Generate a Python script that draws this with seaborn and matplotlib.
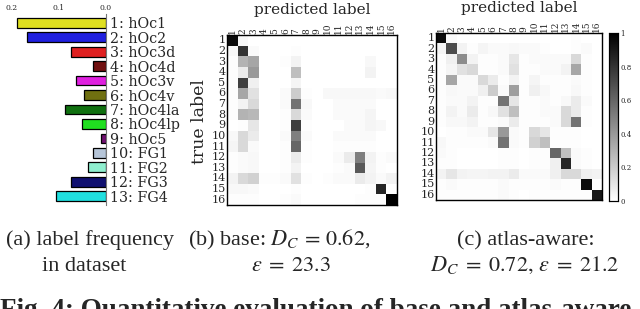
import matplotlib
matplotlib.use('Agg')
import matplotlib.pyplot as plt
import numpy as np
import pandas as pd
import seaborn as sns

# label frequency (panel a)
regions = ['1: hOc1', '2: hOc2', '3: hOc3d', '4: hOc4d', '5: hOc3v', '6: hOc4v', '7: hOc4la',
           '8: hOc4lp', '9: hOc5', '10: FG1', '11: FG2', '12: FG3', '13: FG4']
freq = [0.189, 0.168, 0.074, 0.027, 0.064, 0.047, 0.088, 0.052, 0.011, 0.028, 0.039, 0.074, 0.106]
bar_colors = ['#ffff00', '#0000ff', '#ff0000', '#800000', '#ff00ff', '#808000', '#008000',
              '#00ff00', '#800080', '#b0c4de', '#7fffd4', '#000080', '#00ffff']
freq_ticks = [0.2, 0.1, 0.0]

# confusion matrices (rows: true label, cols: predicted label)
cm_labels = [str(i) for i in range(1, 17)]
cm_base = [
    [0.95, 0.03, 0, 0, 0, 0, 0, 0, 0, 0, 0, 0, 0, 0, 0, 0],
    [0.03, 0.80, 0.02, 0, 0, 0, 0.01, 0, 0, 0, 0, 0, 0, 0, 0, 0],
    [0.01, 0.30, 0.35, 0, 0, 0.01, 0.05, 0, 0, 0, 0, 0, 0, 0.03, 0, 0],
    [0.01, 0.08, 0.40, 0, 0, 0, 0.25, 0, 0, 0, 0, 0, 0, 0.05, 0, 0],
    [0.01, 0.75, 0.06, 0, 0, 0, 0.04, 0, 0, 0, 0, 0, 0, 0, 0, 0],
    [0.01, 0.35, 0.12, 0, 0, 0.02, 0.20, 0.01, 0, 0.03, 0.03, 0.03, 0.03, 0.03, 0.02, 0.03],
    [0.01, 0.05, 0.15, 0, 0, 0.02, 0.55, 0.03, 0, 0, 0.02, 0.02, 0.02, 0.02, 0, 0],
    [0.01, 0.30, 0.28, 0, 0, 0.01, 0.15, 0.02, 0, 0, 0.02, 0.02, 0.02, 0.04, 0, 0],
    [0, 0.01, 0.10, 0, 0, 0.01, 0.75, 0.01, 0, 0, 0, 0.02, 0.02, 0.04, 0.03, 0],
    [0.03, 0.15, 0.08, 0, 0, 0.02, 0.50, 0.02, 0, 0, 0.02, 0.02, 0.02, 0.02, 0, 0],
    [0.04, 0.15, 0.02, 0, 0, 0.01, 0.60, 0.01, 0, 0, 0.01, 0.01, 0.01, 0.01, 0, 0],
    [0.01, 0.02, 0.03, 0, 0, 0.01, 0.08, 0.01, 0, 0, 0.02, 0.08, 0.50, 0.05, 0.01, 0.02],
    [0.01, 0.02, 0.03, 0, 0, 0.01, 0.05, 0, 0, 0, 0.01, 0.02, 0.65, 0.04, 0.01, 0],
    [0.05, 0.15, 0.18, 0.01, 0.01, 0.02, 0.12, 0.01, 0, 0.01, 0.02, 0.02, 0.08, 0.05, 0.02, 0.05],
    [0.03, 0.03, 0.02, 0, 0, 0, 0.01, 0, 0, 0, 0, 0, 0, 0.01, 0.85, 0],
    [0.01, 0.01, 0.01, 0, 0, 0.01, 0.02, 0, 0, 0, 0, 0, 0.01, 0.01, 0.01, 1.0],
]
cm_atlas = [
    [0.95, 0.02, 0, 0, 0, 0, 0, 0, 0, 0, 0, 0, 0, 0.01, 0, 0],
    [0.04, 0.70, 0.05, 0.01, 0.04, 0.02, 0.02, 0.03, 0.02, 0.02, 0.01, 0, 0, 0.01, 0.02, 0],
    [0.01, 0.06, 0.45, 0.05, 0.01, 0.01, 0.02, 0.10, 0.01, 0.02, 0.02, 0.02, 0.02, 0.15, 0.01, 0],
    [0.01, 0.04, 0.12, 0.15, 0.01, 0.01, 0.02, 0.12, 0.01, 0.01, 0.02, 0.02, 0.05, 0.35, 0.01, 0],
    [0.01, 0.35, 0.02, 0.02, 0.15, 0.08, 0.01, 0.05, 0.01, 0.04, 0.01, 0.01, 0.01, 0.02, 0.01, 0],
    [0.01, 0.03, 0.02, 0.02, 0.06, 0.20, 0.02, 0.38, 0.01, 0.06, 0.03, 0.01, 0.01, 0.03, 0.01, 0],
    [0.01, 0.02, 0.02, 0.05, 0.01, 0.01, 0.55, 0.10, 0.01, 0.01, 0.02, 0.01, 0.03, 0.08, 0.02, 0],
    [0.01, 0.05, 0.02, 0.08, 0.01, 0.03, 0.12, 0.25, 0.01, 0.01, 0.02, 0.02, 0.15, 0.08, 0.01, 0],
    [0.01, 0.03, 0.03, 0.05, 0.01, 0.01, 0.02, 0.08, 0.01, 0.01, 0.01, 0.02, 0.15, 0.55, 0.01, 0],
    [0, 0.01, 0.01, 0.02, 0.02, 0.10, 0.40, 0.02, 0.01, 0.15, 0.10, 0.01, 0.01, 0.01, 0, 0],
    [0.03, 0.01, 0.01, 0.01, 0.01, 0.02, 0.55, 0.02, 0.01, 0.18, 0.25, 0.01, 0.01, 0.01, 0, 0],
    [0.02, 0.01, 0, 0, 0, 0, 0.01, 0.01, 0, 0.01, 0.01, 0.60, 0.25, 0.02, 0.01, 0],
    [0.01, 0.01, 0, 0, 0, 0, 0.01, 0.01, 0, 0.01, 0.01, 0.06, 0.85, 0.02, 0.01, 0],
    [0.05, 0.10, 0.05, 0.04, 0.04, 0.05, 0.05, 0.08, 0.02, 0.02, 0.02, 0.06, 0.15, 0.15, 0.06, 0.05],
    [0.01, 0.02, 0.01, 0.01, 0.01, 0.01, 0.02, 0.01, 0.01, 0.01, 0.01, 0.02, 0.01, 0.01, 0.95, 0],
    [0.01, 0.01, 0.01, 0.01, 0.01, 0.01, 0.02, 0.01, 0, 0.01, 0.01, 0.01, 0.01, 0.01, 0.01, 0.90],
]
cbar_ticks = [0, 0.2, 0.4, 0.6, 0.8, 1]
cbar_ticklabels = ['0', '0.2', '0.4', '0.6', '0.8', '1']

sns.set_style('white')
plt.rcParams['font.family'] = ['DejaVu Serif']
plt.rcParams['mathtext.fontset'] = 'stix'
CAP_FONT = ['Liberation Serif', 'DejaVu Serif']

W, H = 640, 309
fig = plt.figure(figsize=(W / 100, H / 100), dpi=100)


def box(l, t, r, b):
    # pixel box -> figure fraction
    return [l / W, 1 - b / H, (r - l) / W, (b - t) / H]


def ftext(x, y, s, **kw):
    fig.text(x / W, 1 - y / H, s, **kw)


# --- (a) bar chart of label frequencies
ax_a = fig.add_axes(box(12, 14, 106, 205))
freq_df = pd.DataFrame({'region': regions, 'freq': freq})
sns.barplot(data=freq_df, x='freq', y='region', hue='region', palette=bar_colors,
            legend=False, orient='h', width=0.68, edgecolor='k', linewidth=0.9, ax=ax_a)
ax_a.set_xlim(0.2, 0)
ax_a.set_ylim(12.6, -0.6)
ax_a.xaxis.tick_top()
ax_a.set_xticks(freq_ticks)
ax_a.set_xticklabels([f'{t:.1f}' for t in freq_ticks], fontsize=5.5)
ax_a.yaxis.tick_right()
ax_a.tick_params(axis='both', length=0, pad=1.5)
ax_a.tick_params(axis='y', labelsize=10.3, pad=3)
ax_a.set_xlabel('')
ax_a.set_ylabel('')
for side in ['top', 'bottom', 'left']:
    ax_a.spines[side].set_visible(False)
ax_a.spines['right'].set_color('#777777')
ax_a.spines['right'].set_linewidth(0.8)


def draw_cm(ax, mat, cbar_ax=None, ylabel=True):
    df = pd.DataFrame(mat, index=cm_labels, columns=cm_labels)
    sns.heatmap(df, cmap='gray_r', vmin=0, vmax=1, square=False, ax=ax,
                xticklabels=cm_labels, yticklabels=cm_labels,
                cbar=cbar_ax is not None, cbar_ax=cbar_ax)
    ax.xaxis.tick_top()
    ax.tick_params(axis='x', labelsize=6.5, labelrotation=90)
    ax.tick_params(axis='y', labelsize=8, labelrotation=0)
    ax.tick_params(axis='both', length=0, pad=1)
    ax.set_xlabel('')
    ax.set_ylabel('')
    h = ax.get_position().height * H
    ax.text(0.5, 1 + 21 / h, 'predicted label', transform=ax.transAxes,
            ha='center', va='baseline', fontsize=11)
    if ylabel:
        ax.text(-28 / (ax.get_position().width * W), 0.49, 'true label',
                transform=ax.transAxes, rotation=90, ha='center', va='center', fontsize=12.5)
    for sp in ax.spines.values():
        sp.set_visible(True)
        sp.set_color('k')
        sp.set_linewidth(1)


# --- (b) base confusion matrix
ax_b = fig.add_axes(box(227, 35, 397, 205))
draw_cm(ax_b, cm_base)

# --- (c) atlas-aware confusion matrix with colorbar
ax_c = fig.add_axes(box(436, 33, 602, 200))
cax = fig.add_axes(box(609, 33, 618, 201))
draw_cm(ax_c, cm_atlas, cbar_ax=cax, ylabel=False)
cax.set_yticks(cbar_ticks)
cax.set_yticklabels(cbar_ticklabels, fontsize=5)
cax.tick_params(axis='y', direction='in', length=2, width=0.6, pad=1.5)
for sp in cax.spines.values():
    sp.set_visible(True)
    sp.set_color('k')
    sp.set_linewidth(0.8)

# --- sub-captions
cap = dict(fontsize=16, va='baseline', ha='center', family=CAP_FONT)
ftext(90, 245, '(a) label frequency', **cap)
ftext(84, 271, 'in dataset', **cap)
ftext(279, 245, r'(b) base: $D_C\,=\,0.62$,', **cap)
ftext(291, 271, r'$\epsilon\;=\;23.3$', **cap)
ftext(526, 245, '(c) atlas-aware:', **cap)
ftext(525, 271, r'$D_C\;=\;0.72,\,\epsilon\;=\;21.2$', **cap)
ftext(0, 317, 'Fig. 4: Quantitative evaluation of base and atlas-aware', fontsize=19.5,
      fontweight='bold', va='baseline', ha='left', family=CAP_FONT)

fig.savefig('out.png', dpi=100)
